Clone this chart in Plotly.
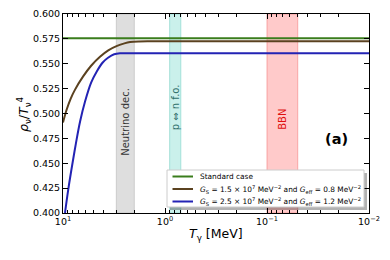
import numpy as np
import plotly.graph_objects as go

# ---- data ----
T_std = [10.0, 0.01]
rho_std = [0.5757, 0.5757]

T_brown = [10.0, 9.2, 8.4, 7.62, 6.37, 5.3, 4.34, 3.6, 2.95, 2.5, 2.2, 1.8, 1.2, 0.01]
rho_brown = [0.491, 0.504, 0.515, 0.524, 0.537, 0.548, 0.557, 0.5635, 0.568, 0.5705, 0.5718, 0.5724, 0.5725, 0.5725]

T_blue = [9.56, 8.87, 8.04, 7.47, 6.8, 6.08, 5.3, 4.68, 4.1, 3.62, 3.15, 2.76, 2.5, 0.01]
rho_blue = [0.400, 0.424, 0.451, 0.470, 0.492, 0.512, 0.531, 0.542, 0.551, 0.556, 0.5595, 0.5605, 0.5605, 0.5605]

band_labels = ["Neutrino dec.", "p ⇔ n f.o.", "BBN"]
band_lo = [2.0, 0.7, 0.05]
band_hi = [3.0, 0.9, 0.1]
band_fill = ["rgba(200,200,200,0.6)", "rgba(150,225,215,0.5)", "rgba(255,150,150,0.5)"]
band_edge = ["rgba(190,190,190,0.7)", "rgba(140,215,205,0.7)", "rgba(245,140,140,0.7)"]
band_text_color = ["#333333", "#2f6f6a", "#e01010"]
band_text_y = [0.492, 0.5065, 0.494]

legend_names = [
    "Standard case",
    "<i>G</i><sub>S</sub> = 1.5 × 10<sup>7</sup> MeV<sup>−2</sup> and <i>G</i><sub>eff</sub> = 0.8 MeV<sup>−2</sup>",
    "<i>G</i><sub>S</sub> = 2.5 × 10<sup>7</sup> MeV<sup>−2</sup> and <i>G</i><sub>eff</sub> = 1.2 MeV<sup>−2</sup>",
]
colors = ["#3a7d1c", "#5b4220", "#2323b4"]

xtick_vals = [10, 1, 0.1, 0.01]
xtick_text = ["10<sup>1</sup>", "10<sup>0</sup>", "10<sup>−1</sup>", "10<sup>−2</sup>"]
ytick_vals = [0.400, 0.425, 0.450, 0.475, 0.500, 0.525, 0.550, 0.575, 0.600]

FONT = "DejaVu Sans"
OFF = 8  # page body margin offset
# plot area in page pixels
PL, PR, PT, PB = 63, 369, 14, 213
W, H = 390 - OFF, 260 - OFF
L, T = PL - OFF, PT - OFF
R, B = W - (PR - PL) - L, H - (PB - PT) - T
PW, PH = PR - PL, PB - PT


def px(xp):
    return (xp - PL) / PW


def py(yp):
    return (PB - yp) / PH


fig = go.Figure()

for lo, hi, fc, ec in zip(band_lo, band_hi, band_fill, band_edge):
    fig.add_trace(go.Scatter(
        x=[lo, hi, hi, lo, lo], y=[0.4, 0.4, 0.6, 0.6, 0.4],
        fill="toself", fillcolor=fc, mode="lines",
        line=dict(color=ec, width=1), showlegend=False, hoverinfo="skip"))

for Tv, rho, name, c, shp in [(T_std, rho_std, legend_names[0], colors[0], "linear"),
                               (T_brown, rho_brown, legend_names[1], colors[1], "spline"),
                               (T_blue, rho_blue, legend_names[2], colors[2], "spline")]:
    fig.add_trace(go.Scatter(x=Tv, y=rho, mode="lines", name=name, showlegend=False,
                             line=dict(color=c, width=2, shape=shp)))

for lab, lo, hi, tc, ty in zip(band_labels, band_lo, band_hi, band_text_color, band_text_y):
    fig.add_annotation(x=np.log10(np.sqrt(lo * hi)), y=ty, xref="x", yref="y",
                       text=lab, textangle=-90, showarrow=False,
                       font=dict(family=FONT, size=10, color=tc))

fig.add_annotation(x=px(350), y=py(149), xref="paper", yref="paper", text="<b>(a)</b>",
                   showarrow=False, font=dict(family=FONT, size=14.5, color="black"))

# axis titles
fig.add_annotation(x=px(216), y=py(245), xref="paper", yref="paper",
                   text="<i>T</i><sub>γ</sub> [MeV]", showarrow=False,
                   font=dict(family=FONT, size=12.5, color="black"))
fig.add_annotation(x=px(13), y=py(114), xref="paper", yref="paper",
                   text="<i>ρ</i><sub>ν</sub>/<i>T</i><sub>ν</sub><sup>4</sup>", showarrow=False,
                   textangle=-90, font=dict(family=FONT, size=12.5, color="black"))

# ---- manual legend (box, shadow, sample lines, texts) ----
bx0, bx1, by0, by1 = 167, 364, 170, 207
fig.add_shape(type="rect", xref="paper", yref="paper",
              x0=px(bx0 + 3), x1=px(bx1 + 3), y0=py(by1 + 3), y1=py(by0 + 3),
              fillcolor="rgba(0,0,0,0.3)", line=dict(width=0), layer="above")
fig.add_shape(type="rect", xref="paper", yref="paper",
              x0=px(bx0), x1=px(bx1), y0=py(by1), y1=py(by0),
              fillcolor="white", line=dict(color="#cccccc", width=1), layer="above")
row_y = [176.5, 189, 201.5]
for name, c, ry in zip(legend_names, colors, row_y):
    fig.add_shape(type="line", xref="paper", yref="paper",
                  x0=px(172.5), x1=px(193), y0=py(ry), y1=py(ry),
                  line=dict(color=c, width=2), layer="above")
    fig.add_annotation(x=px(198), y=py(ry), xref="paper", yref="paper", text=name,
                       xanchor="left", yanchor="middle", showarrow=False,
                       font=dict(family=FONT, size=7.4, color="black"))

axis_common = dict(showline=True, linecolor="black", linewidth=1, mirror="ticks",
                   ticks="inside", tickcolor="black", showgrid=False, zeroline=False,
                   tickfont=dict(family=FONT, size=9.5, color="black"))

minor_vals = [m * 10.0 ** k for k in [0, -1, -2] for m in range(2, 10)]
fig.update_xaxes(type="log", range=[1, -2], tickvals=xtick_vals, ticktext=xtick_text,
                 ticklen=5, tickwidth=1, ticklabelstandoff=0,
                 minor=dict(tickvals=minor_vals, ticks="inside", ticklen=3, tickcolor="black", showgrid=False),
                 **axis_common)
fig.update_yaxes(range=[0.4, 0.6], tickvals=ytick_vals, tickformat=".3f", ticklen=5, tickwidth=1,
                 **axis_common)

fig.update_layout(
    width=W, height=H, margin=dict(l=L, r=R, t=T, b=B, autoexpand=False),
    paper_bgcolor="white", plot_bgcolor="white",
    font=dict(family=FONT, color="black"),
    showlegend=False,
)

fig.write_html("out.html")
